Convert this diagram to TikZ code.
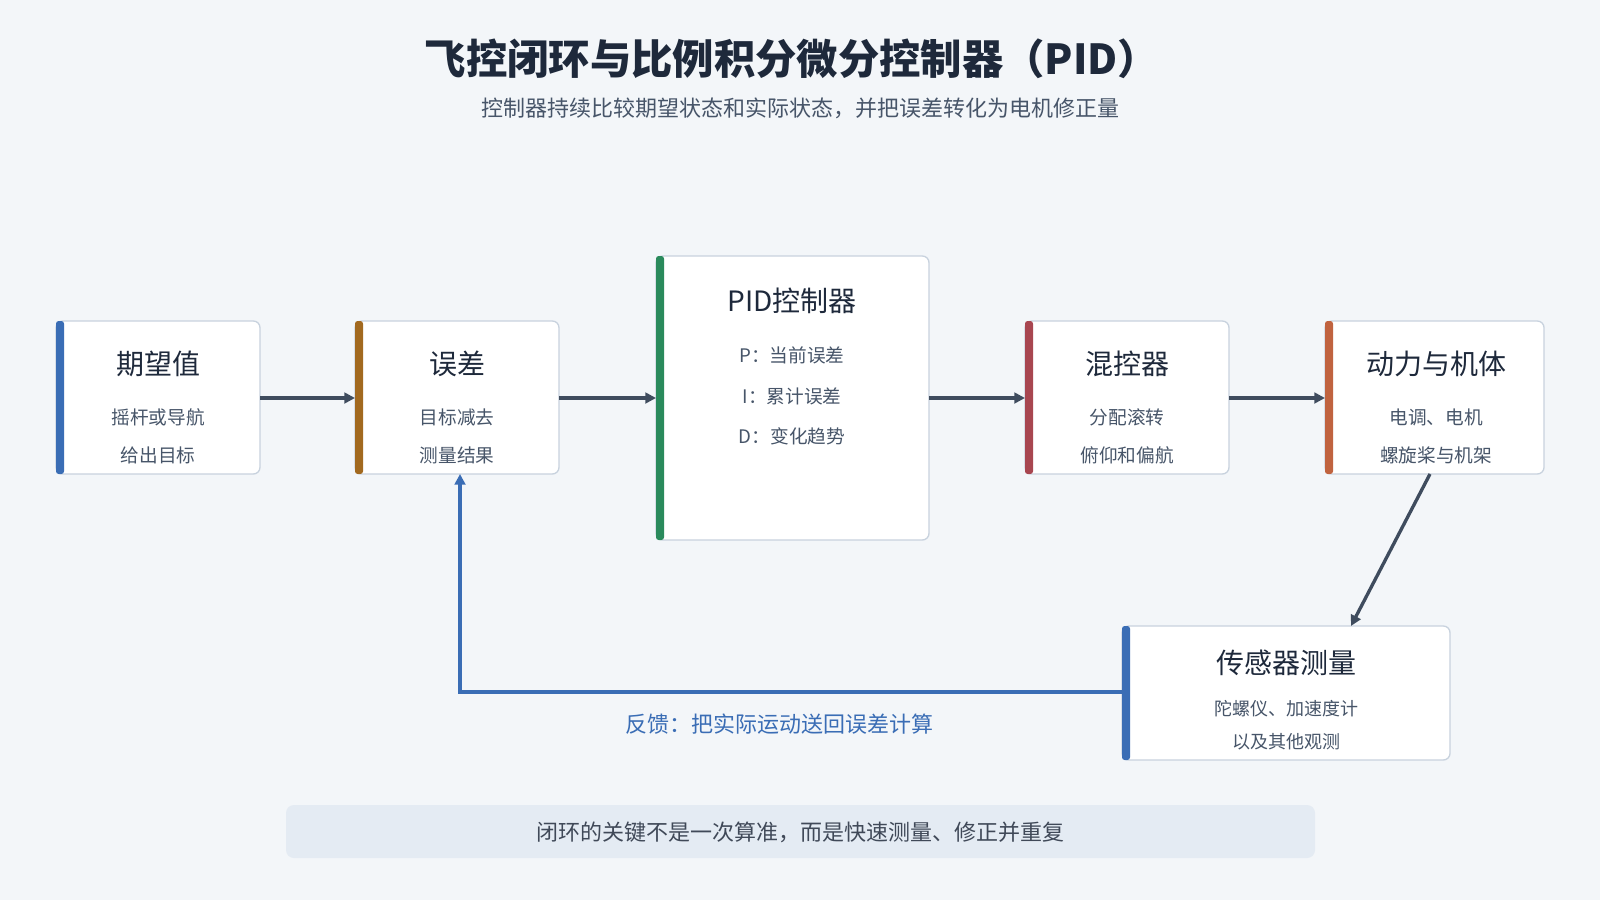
\documentclass[tikz,border=0pt]{standalone}
\usepackage{fontspec}
\setmainfont{Noto Sans CJK SC}
\usetikzlibrary{arrows.meta}
\definecolor{bg}{HTML}{F3F6F9}
\definecolor{tdark}{HTML}{1E293B}
\definecolor{tgray}{HTML}{475569}
\definecolor{bord}{HTML}{C8D2DE}
\definecolor{cblue}{HTML}{3A6DB5}
\definecolor{cbrown}{HTML}{A2691F}
\definecolor{cgreen}{HTML}{2A8A5C}
\definecolor{cred}{HTML}{A84650}
\definecolor{corange}{HTML}{C0633F}
\definecolor{line}{HTML}{3F4C5E}
\definecolor{barbg}{HTML}{E4EBF3}
\tikzset{
 box/.style={draw=bord,line width=1pt,fill=white,rounded corners=5pt},
 ttl/.style={font=\fontsize{21}{24}\selectfont,text=tdark},
 sub/.style={font=\fontsize{14}{16}\selectfont,text=tgray,align=center},
 arr/.style={draw=line,line width=2.5pt,-{Triangle[length=8pt,width=8pt]}},
}
\newcommand{\mybox}[6]{% x1 y1 x2 y2 color name
 \draw[box] (#1,#2) rectangle (#3,#4);
 \fill[#5,rounded corners=2pt] (#1,#2) rectangle ({#1+8},#4);
 \coordinate (#6) at ({(#1+#3)/2},{(#2+#4)/2});}
\begin{document}
\begin{tikzpicture}[x=0.75pt,y=-0.75pt]
\fill[bg] (0,0) rectangle (1600,900);
\useasboundingbox (0,0) rectangle (1600,900);
\node[font=\fontsize{31}{36}\selectfont\bfseries,text=tdark] (title) at (792,59) {飞控闭环与比例积分微分控制器（PID）};
\node[font=\fontsize{16.5}{18}\selectfont,text=tgray] (subtitle) at (800,108) {控制器持续比较期望状态和实际状态，并把误差转化为电机修正量};
% boxes
\mybox{56}{321}{260}{474}{cblue}{b1}
\mybox{355}{321}{559}{474}{cbrown}{b2}
\mybox{656}{256}{929}{540}{cgreen}{b3}
\mybox{1025}{321}{1229}{474}{cred}{b4}
\mybox{1325}{321}{1544}{474}{corange}{b5}
\mybox{1122}{626}{1450}{760}{cblue}{b6}
\node[ttl] (t1) at (158,364) {期望值};
\node[sub] (s1) at (158,417) {摇杆或导航};
\node[sub] (s1b) at (158,455) {给出目标};
\node[ttl] (t2) at (457,364) {误差};
\node[sub] (s2) at (457,417) {目标减去};
\node[sub] (s2b) at (457,455) {测量结果};
\node[ttl] (t3) at (792,301) {PID控制器};
\node[sub] (s3) at (792,355) {P：当前误差};
\node[sub] (s3b) at (792,396) {I：累计误差};
\node[sub] (s3c) at (792,436) {D：变化趋势};
\node[ttl] (t4) at (1127,364) {混控器};
\node[sub] (s4) at (1127,417) {分配滚转};
\node[sub] (s4b) at (1127,455) {俯仰和偏航};
\node[ttl] (t5) at (1436,364) {动力与机体};
\node[sub] (s5) at (1436,417) {电调、电机};
\node[sub] (s5b) at (1436,455) {螺旋桨与机架};
\node[ttl] (t6) at (1286,663) {传感器测量};
\node[sub,font=\fontsize{13.5}{15}\selectfont] (s6) at (1286,709) {陀螺仪、加速度计};
\node[sub,font=\fontsize{13.5}{15}\selectfont] (s6b) at (1286,742) {以及其他观测};
% connectors
\coordinate (p1) at (260,398); \coordinate (p2) at (355,398);
\coordinate (p3) at (559,398); \coordinate (p4) at (656,398);
\coordinate (p5) at (929,398); \coordinate (p6) at (1025,398);
\coordinate (p7) at (1229,398); \coordinate (p8) at (1325,398);
\coordinate (p9) at (1430,474); \coordinate (p10) at (1351,626);
\draw[arr] (p1)--(p2);
\draw[arr] (p3)--(p4);
\draw[arr] (p5)--(p6);
\draw[arr] (p7)--(p8);
\draw[arr] (p9)--(p10);
\coordinate (f1) at (1122,692); \coordinate (f2) at (460,474);
\draw[draw=cblue,line width=3pt,-{Triangle[length=8pt,width=8pt]}] (f1) -- (460,692) -- (f2);
\node[font=\fontsize{16.5}{18}\selectfont,text=cblue] (fb) at (779,724) {反馈：把实际运动送回误差计算};
% bottom bar
\fill[barbg,rounded corners=6pt] (286,805) rectangle (1315,858);
\node[font=\fontsize{16.5}{18}\selectfont,text=tdark!85] (bar) at (800,832) {闭环的关键不是一次算准，而是快速测量、修正并重复};
\end{tikzpicture}
\end{document}
